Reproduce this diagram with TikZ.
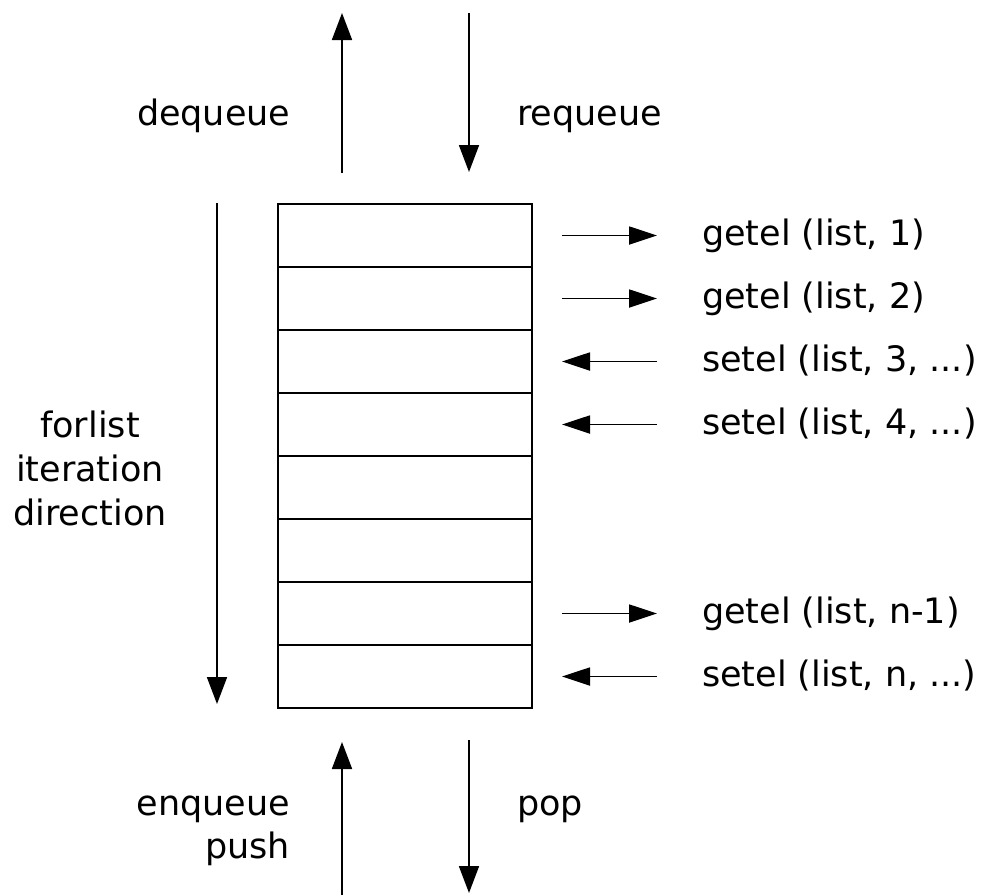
\documentclass[tikz,border=0pt]{standalone}
\usepackage{fontspec}
\setmainfont{DejaVu Sans}
\usetikzlibrary{arrows.meta}
\begin{document}
\begin{tikzpicture}[x=1pt,y=-1pt,
  cell/.style={draw, line width=1.8pt, minimum width=254pt, minimum height=63pt, inner sep=0pt, outer sep=0pt},
  arr/.style={line width=1.8pt, -{Triangle[length=27pt,width=20pt]}},
  harr/.style={line width=1.8pt, -{Triangle[length=28pt,width=18pt]}},
  lbl/.style={font=\fontsize{35}{44}\selectfont, inner sep=0pt, outer sep=0pt},
]
\useasboundingbox (0,0) rectangle (986,895);
% list cells
\foreach \i in {1,...,8} {
  \node[cell] (r\i) at (405, {204+63*(\i-0.5)}) {};
}
% top arrows
\coordinate (dqa) at (342,173); \coordinate (dqb) at (342,13);
\coordinate (rqa) at (469,13);  \coordinate (rqb) at (469,172);
\draw[arr] (dqa) -- (dqb);
\draw[arr] (rqa) -- (rqb);
\node[lbl, anchor=base west] (dequeue) at (137,125) {dequeue};
\node[lbl, anchor=base west] (requeue) at (517,125) {requeue};
% bottom arrows
\coordinate (eqa) at (342,895); \coordinate (eqb) at (342,742);
\coordinate (ppa) at (469,740); \coordinate (ppb) at (469,893);
\draw[arr] (eqa) -- (eqb);
\draw[arr] (ppa) -- (ppb);
\node[lbl, anchor=base east] (enqueue) at (290,815) {enqueue};
\node[lbl, anchor=base east] (push) at (290,858) {push};
\node[lbl, anchor=base west] (pop) at (517,815) {pop};
% iteration direction
\coordinate (ita) at (217,203); \coordinate (itb) at (217,704);
\draw[arr] (ita) -- (itb);
\node[lbl, anchor=base] (forlist) at (90,437) {forlist};
\node[lbl, anchor=base] (iteration) at (90,481) {iteration};
\node[lbl, anchor=base] (direction) at (90,525) {direction};
% element access arrows
\foreach \i/\dir/\txt in {1/g/{getel (list, 1)}, 2/g/{getel (list, 2)}, 3/s/{setel (list, 3, ...)}, 4/s/{setel (list, 4, ...)}, 7/g/{getel (list, n-1)}, 8/s/{setel (list, n, ...)}} {
  \coordinate (ea\i) at (562, {204+63*(\i-0.5)});
  \coordinate (eb\i) at (657, {204+63*(\i-0.5)});
  \if\dir g
    \draw[harr] (ea\i) -- (eb\i);
  \else
    \draw[harr] (eb\i) -- (ea\i);
  \fi
  \node[lbl, anchor=base west] (t\i) at (702, {204+63*(\i-0.5)+10}) {\txt};
}
\end{tikzpicture}
\end{document}
